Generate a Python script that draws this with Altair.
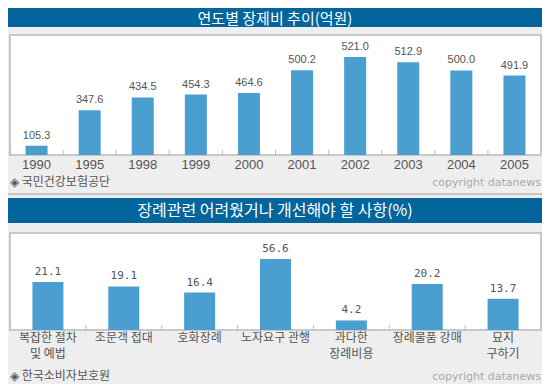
import altair as alt
import pandas as pd

# ---------------- data ----------------
years = ["1990", "1995", "1998", "1999", "2000", "2001", "2002", "2003", "2004", "2005"]
cost = [105.3, 347.6, 434.5, 454.3, 464.6, 500.2, 521.0, 512.9, 500.0, 491.9]

items = ["복잡한 절차\n및 예법", "조문객 접대", "호화장례", "노자요구 관행",
         "과다한\n장례비용", "장례물품 강매", "묘지\n구하기"]
pct = [21.1, 19.1, 16.4, 56.6, 4.2, 20.2, 13.7]

title1 = "연도별 장제비 추이(억원)"
title2 = "장례관련 어려웠거나 개선해야 할 사항(%)"
source1 = "◈ 국민건강보험공단"
source2 = "◈ 한국소비자보호원"
copyright_txt = "copyright datanews"

W, H = 534, 376
BLUE = "#03659B"
BAR = "#4A9FD0"
BORDER = "#C8C8C8"
TXT = "#555555"
KFONT = "Noto Sans CJK KR"
NFONT = "Liberation Sans"

df1 = pd.DataFrame({"year": years, "cost": cost})
df2 = pd.DataFrame({"item": items, "pct": pct})
one = pd.DataFrame({"k": [0]})

# ---------------- decorations ----------------
def rect(x, x2, y, y2, fill, stroke=None, sw=0):
    kw = dict(fill=fill)
    if stroke:
        kw.update(stroke=stroke, strokeWidth=sw)
    return alt.Chart(one).mark_rect(**kw).encode(
        x=alt.value(x), x2=alt.value(x2), y=alt.value(y), y2=alt.value(y2))

def label(txt, x, y, size, color, font, align="left", weight="normal"):
    return alt.Chart(pd.DataFrame({"t": [txt]})).mark_text(
        align=align, baseline="middle", fontSize=size, color=color,
        font=font, fontWeight=weight).encode(
        text="t:N", x=alt.value(x), y=alt.value(y))

deco = [
    rect(0, W, 0, 19, BLUE),
    label(title1, W / 2, 10.5, 15, "white", KFONT, "center"),
    rect(2, 533, 27, 147, "white", BORDER, 2),
    label(source1, 2, 174, 12, TXT, KFONT),
    label(copyright_txt, 533, 175, 11, "#A8A8A8", "DejaVu Sans", "right"),
    alt.Chart(one).mark_rule(color=BORDER, strokeWidth=2).encode(
        x=alt.value(-3), x2=alt.value(535), y=alt.value(186)),
    rect(0, W, 190, 215, BLUE),
    label(title2, W / 2, 203, 16, "white", KFONT, "center"),
    rect(2, 533, 225, 322, "white", BORDER, 2),
    label(source2, 2, 368, 12, TXT, KFONT),
    label(copyright_txt, 533, 369, 11, "#A8A8A8", "DejaVu Sans", "right"),
]

# ---------------- panel 1 ----------------
x1 = alt.X("year:N", sort=years, axis=None,
           scale=alt.Scale(range=[2, 533], paddingInner=0, paddingOuter=0))
y1s = alt.Scale(domain=[42, 464.6, 521, 555], range=[147, 85, 49, 27],
                zero=False, nice=False)
base1 = alt.Chart(df1)
bars1 = base1.mark_bar(color=BAR, size=22).encode(
    x=x1, y=alt.Y("cost:Q", scale=y1s, axis=None), y2=alt.datum(42))
vals1 = base1.mark_text(baseline="bottom", dy=-5, fontSize=11, font=NFONT,
                        color=TXT).encode(
    x=x1, y=alt.Y("cost:Q", scale=y1s, axis=None),
    text=alt.Text("cost:Q", format=".1f"))
ticks1 = base1.mark_rule(color="#BBBBBB", strokeWidth=1).encode(
    x=alt.X("year:N", sort=years, axis=None, bandPosition=0,
            scale=alt.Scale(range=[2, 533], paddingInner=0, paddingOuter=0)),
    y=alt.value(142), y2=alt.value(147))
xl1 = base1.mark_text(baseline="middle", fontSize=13, font=NFONT,
                      color=TXT).encode(x=x1, y=alt.value(156.5), text="year:N")
panel1 = alt.layer(ticks1, bars1, vals1, xl1)

# ---------------- panel 2 ----------------
x2 = alt.X("item:N", sort=items, axis=None,
           scale=alt.Scale(range=[2, 533], paddingInner=0, paddingOuter=0))
y2s = alt.Scale(domain=[0, 25, 60], range=[322, 265, 249.5],
                zero=False, nice=False)
base2 = alt.Chart(df2)
bars2 = base2.mark_bar(color=BAR, size=31).encode(
    x=x2, y=alt.Y("pct:Q", scale=y2s, axis=None), y2=alt.datum(0))
vals2 = base2.mark_text(baseline="bottom", dy=-5, fontSize=11,
                        font="DejaVu Sans Mono", color=TXT).encode(
    x=x2, y=alt.Y("pct:Q", scale=y2s, axis=None),
    text=alt.Text("pct:Q", format=".1f"))
ticks2 = base2.mark_rule(color="#BBBBBB", strokeWidth=1).encode(
    x=alt.X("item:N", sort=items, axis=None, bandPosition=0,
            scale=alt.Scale(range=[2, 533], paddingInner=0, paddingOuter=0)),
    y=alt.value(317), y2=alt.value(322))
xl2 = base2.mark_text(baseline="top", fontSize=12, font=KFONT, color=TXT,
                      lineBreak="\n", lineHeight=16).encode(
    x=x2, y=alt.value(325), text="item:N")
panel2 = alt.layer(ticks2, bars2, vals2, xl2)

chart = alt.layer(*deco, panel1, panel2).resolve_scale(
    x="independent", y="independent"
).properties(
    width=W, height=H, padding=0, autosize=alt.AutoSizeParams(type="none"),
    background="#EEEEEE"
).configure_view(stroke=None)

chart.save("out.html", embed_options={"renderer": "svg", "actions": False})
